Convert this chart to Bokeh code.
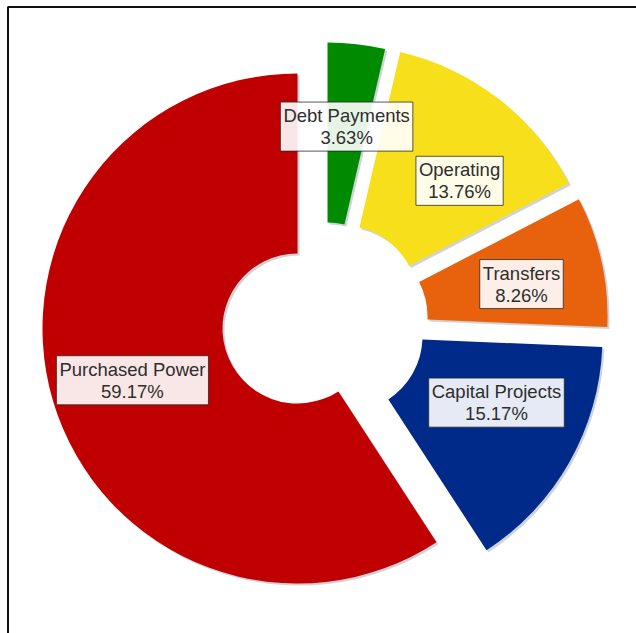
import numpy as np
from bokeh.plotting import figure
from bokeh.models import Range1d, ColumnDataSource
from bokeh.core.properties import value
from bokeh.embed import file_html
from bokeh.resources import INLINE

# Budget shares, clockwise from 12 o'clock
categories = ["Debt Payments", "Operating", "Transfers", "Capital Projects", "Purchased Power"]
shares = [3.63, 13.76, 8.26, 15.17, 59.17]
colors = ["#008a00", "#f7e01b", "#e8620e", "#002a8a", "#c00000"]

# Layout (pixels; screen y grows downward)
W, H = 636, 633
CX, CY = 297, 328
R_IN, R_OUT = 75, 255
explode = [(30, -31), (45, -28), (55, -12), (50, 8), (0, 0)]
label_r = 168
label_nudge = [(0, -4), (14, 13), (5, 4), (3, -17), (-4, 4)]

frac = np.array(shares) / np.sum(shares)
cum = np.concatenate([[0.0], np.cumsum(frac)]) * 2 * np.pi
theta1, theta2 = cum[:-1], cum[1:]
mid = (theta1 + theta2) / 2

xs = np.array([CX + d[0] for d in explode], dtype=float)
ys = np.array([(H - CY) - d[1] for d in explode], dtype=float)

src = ColumnDataSource(dict(
    x=xs, y=ys,
    sx=xs + 2, sy=ys - 2,
    start=np.pi / 2 - theta2, end=np.pi / 2 - theta1,
    color=colors,
))

lx = xs + label_r * np.sin(mid) + np.array([n[0] for n in label_nudge])
ly = ys + label_r * np.cos(mid) - np.array([n[1] for n in label_nudge])
labels = ColumnDataSource(dict(
    x=lx, y=ly,
    text=[f"{c}\n{s:.2f}%" for c, s in zip(categories, shares)],
))

p = figure(width=W, height=H, x_range=Range1d(0, W), y_range=Range1d(0, H),
           x_axis_type=None, y_axis_type=None, toolbar_location=None,
           output_backend="svg", min_border=0)
p.outline_line_color = None
p.background_fill_color = "white"
p.border_fill_color = "white"

# soft shadow edge behind each slice
p.annular_wedge(x="sx", y="sy", inner_radius=R_IN, outer_radius=R_OUT,
                start_angle="start", end_angle="end", source=src,
                fill_color="#c6cbd4", fill_alpha=0.85, line_color=None)
p.annular_wedge(x="x", y="y", inner_radius=R_IN, outer_radius=R_OUT,
                start_angle="start", end_angle="end", source=src,
                fill_color="color", line_color=None)

p.text(x="x", y="y", text="text", source=labels,
       text_align="center", text_baseline="middle",
       text_font=value("Liberation Sans"), text_font_size="18.5px",
       text_color="#2e2e2e", text_line_height=1.05,
       background_fill_color="white", background_fill_alpha=0.9,
       border_line_color="#222222", border_line_alpha=0.75, border_line_width=1,
       padding=3)

# frame lines along the top and left
p.line(x=[7.5, 7.5, W], y=[0, H - 6.5, H - 6.5], line_color="#111111", line_width=2)

open("out.html", "w").write(file_html(p, INLINE))
